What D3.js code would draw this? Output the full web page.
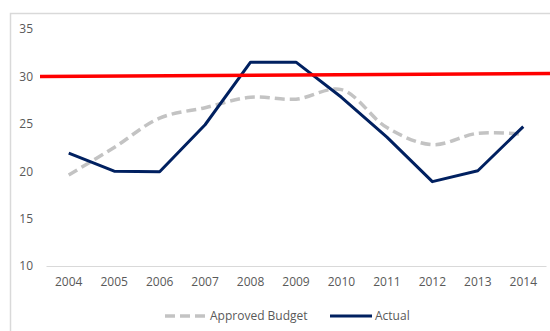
<!DOCTYPE html>
<html>
<head>
<meta charset="utf-8">
<script src="https://cdn.jsdelivr.net/npm/d3@7"></script>
<style>
  html, body { margin: 0; padding: 0; background: #fff; }
  svg { display: block; font-family: "Open Sans", "Noto Sans", sans-serif; }
</style>
</head>
<body>
<svg id="chart" width="550" height="331"></svg>
<script>
// Yearly figures
const years = ["2004","2005","2006","2007","2008","2009","2010","2011","2012","2013","2014"];
const approvedBudget = [19.6, 22.5, 25.6, 26.7, 27.8, 27.6, 28.6, 24.6, 22.8, 24.0, 23.9];
const actual = [21.9, 20.0, 19.95, 24.9, 31.5, 31.5, 27.8, 23.6, 18.9, 20.05, 24.7];
const yTicks = [10, 15, 20, 25, 30, 35];
// Ceiling reference line (start and end level)
const ceiling = [30.0, 30.3];

const svg = d3.select("#chart");
const W = 550, H = 331;
const plot = { left: 46, right: 546, top: 29, bottom: 266 };

// Outer frame
svg.append("rect")
  .attr("x", 10.5).attr("y", 13.5)
  .attr("width", 560).attr("height", 340)
  .attr("fill", "none").attr("stroke", "#d9d9d9").attr("stroke-width", 1.5);

const x = d3.scaleBand().domain(years).range([plot.left, plot.right]).padding(0);
const y = d3.scaleLinear().domain([10, 35]).range([plot.bottom, plot.top]);
const cx = d => x(d) + x.bandwidth() / 2;

// Y axis labels (no line)
const yAxis = d3.axisLeft(y).tickValues(yTicks).tickSize(0).tickPadding(8);
const gy = svg.append("g").attr("transform", `translate(${plot.left - 5},0)`).call(yAxis);
gy.select(".domain").remove();
gy.selectAll("text").attr("fill", "#595959").style("font-size", "12px")
  .style("font-family", "'Open Sans', sans-serif");

// X axis: baseline plus year labels
const xAxis = d3.axisBottom(x).tickSize(0).tickPadding(11);
const gx = svg.append("g").attr("transform", `translate(0,${plot.bottom})`).call(xAxis);
gx.select(".domain").attr("stroke", "#d9d9d9").attr("stroke-width", 1.2);
gx.selectAll("text").attr("fill", "#595959").style("font-size", "12px")
  .style("font-family", "'Open Sans', sans-serif");

// Approved budget: smoothed dashed line
const budgetLine = d3.line()
  .x((d, i) => cx(years[i]))
  .y(d => y(d))
  .curve(d3.curveCatmullRom.alpha(0.5));
svg.append("path")
  .datum(approvedBudget)
  .attr("d", budgetLine)
  .attr("fill", "none")
  .attr("stroke", "#c3c3c3")
  .attr("stroke-width", 3.5)
  .attr("stroke-dasharray", "10,5");

// Actual
const actualLine = d3.line()
  .x((d, i) => cx(years[i]))
  .y(d => y(d));
svg.append("path")
  .datum(actual)
  .attr("d", actualLine)
  .attr("fill", "none")
  .attr("stroke", "#002060")
  .attr("stroke-width", 3)
  .attr("stroke-linejoin", "round");

// Ceiling line across the chart
svg.append("line")
  .attr("x1", 40).attr("x2", 550)
  .attr("y1", y(ceiling[0])).attr("y2", y(ceiling[1]))
  .attr("stroke", "#ff0000")
  .attr("stroke-width", 3.5);

// Legend
const legend = svg.append("g").attr("transform", "translate(0,316)");
const items = [
  { label: "Approved Budget", x: 165, color: "#c3c3c3", dash: "10,5", w: 3.5 },
  { label: "Actual", x: 330, color: "#002060", dash: null, w: 3 }
];
items.forEach(it => {
  legend.append("line")
    .attr("x1", it.x).attr("x2", it.x + 42)
    .attr("y1", 0).attr("y2", 0)
    .attr("stroke", it.color)
    .attr("stroke-width", it.w)
    .attr("stroke-dasharray", it.dash);
  legend.append("text")
    .attr("x", it.x + 45).attr("y", 0)
    .attr("dy", "0.35em")
    .attr("fill", "#595959")
    .style("font-size", "12px")
    .text(it.label);
});
</script>
</body>
</html>
